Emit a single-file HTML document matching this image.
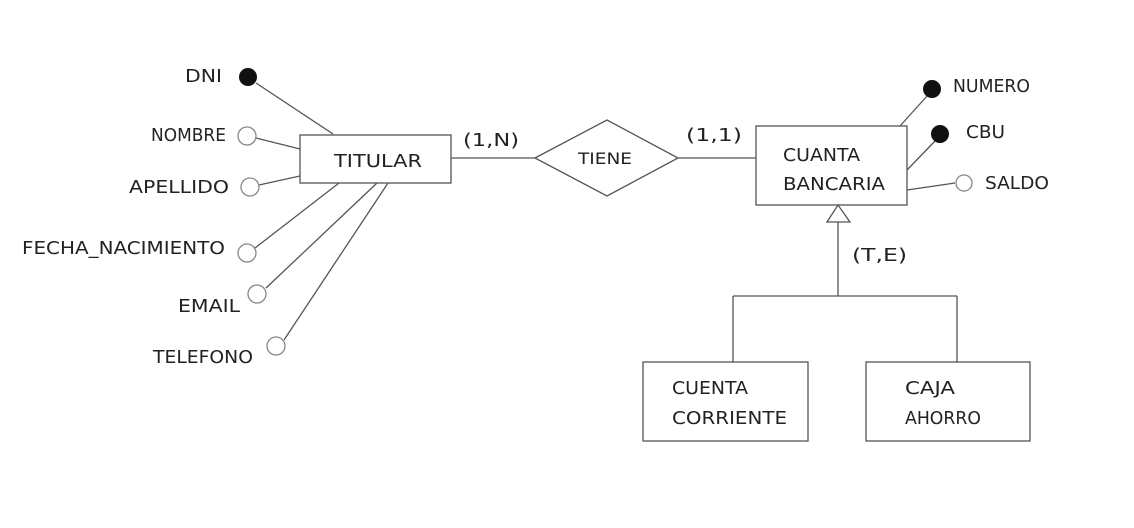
<!DOCTYPE html>
<html><head><meta charset="utf-8"><style>
html,body{margin:0;padding:0;background:#fff;}
svg{display:block}
text{font-family:"DejaVu Sans","Liberation Sans",sans-serif;font-size:18px;fill:#222;}
</style></head><body>
<svg width="1134" height="528" viewBox="0 0 1134 528" xmlns="http://www.w3.org/2000/svg">
<g stroke="#555" stroke-width="1.3" fill="none">
<line x1="256" y1="83" x2="333" y2="134"/>
<line x1="256" y1="138" x2="300" y2="149"/>
<line x1="259" y1="185" x2="300" y2="176"/>
<line x1="255" y1="248" x2="339" y2="183"/>
<line x1="266" y1="288" x2="377" y2="183"/>
<line x1="284" y1="340" x2="388" y2="183"/>
<rect x="300" y="135" width="151" height="48" fill="#fff"/>
<line x1="451" y1="158" x2="535" y2="158"/>
<polygon points="535,158 607,120 678,158 607,196" fill="#fff"/>
<line x1="678" y1="158" x2="756" y2="158"/>
<rect x="756" y="126" width="151" height="79" fill="#fff"/>
<line x1="900" y1="126" x2="928" y2="95"/>
<line x1="907" y1="170" x2="936" y2="140"/>
<line x1="907" y1="190" x2="955" y2="183"/>
<polygon points="838,205 827,222 850,222" fill="#fff"/>
<line x1="838" y1="222" x2="838" y2="296"/>
<line x1="733" y1="296" x2="957" y2="296"/>
<line x1="733" y1="296" x2="733" y2="362"/>
<line x1="957" y1="296" x2="957" y2="362"/>
<rect x="643" y="362" width="165" height="79" fill="#fff"/>
<rect x="866" y="362" width="164" height="79" fill="#fff"/>
<circle cx="247" cy="136" r="9" fill="#fff" stroke="#888"/>
<circle cx="250" cy="187" r="9" fill="#fff" stroke="#888"/>
<circle cx="247" cy="253" r="9" fill="#fff" stroke="#888"/>
<circle cx="257" cy="294" r="9" fill="#fff" stroke="#888"/>
<circle cx="276" cy="346" r="9" fill="#fff" stroke="#888"/>
<circle cx="964" cy="183" r="8" fill="#fff" stroke="#888"/>
</g>
<circle cx="248" cy="77" r="9" fill="#111"/>
<circle cx="932" cy="89" r="9" fill="#111"/>
<circle cx="940" cy="134" r="9" fill="#111"/>
<text x="185" y="82" textLength="37" lengthAdjust="spacingAndGlyphs">DNI</text>
<text x="151" y="141" textLength="75" lengthAdjust="spacingAndGlyphs">NOMBRE</text>
<text x="129" y="193" textLength="100" lengthAdjust="spacingAndGlyphs">APELLIDO</text>
<text x="22" y="254" textLength="203" lengthAdjust="spacingAndGlyphs">FECHA_NACIMIENTO</text>
<text x="178" y="312" textLength="62" lengthAdjust="spacingAndGlyphs">EMAIL</text>
<text x="153" y="363" textLength="100" lengthAdjust="spacingAndGlyphs">TELEFONO</text>
<text x="334" y="167" textLength="88" lengthAdjust="spacingAndGlyphs">TITULAR</text>
<text x="578" y="164" style="font-size:16px" textLength="54" lengthAdjust="spacingAndGlyphs">TIENE</text>
<text x="463" y="146" textLength="56" lengthAdjust="spacingAndGlyphs">(1,N)</text>
<text x="686" y="141" textLength="56" lengthAdjust="spacingAndGlyphs">(1,1)</text>
<text x="783" y="161" textLength="77" lengthAdjust="spacingAndGlyphs">CUANTA</text>
<text x="783" y="190" textLength="102" lengthAdjust="spacingAndGlyphs">BANCARIA</text>
<text x="953" y="92" textLength="77" lengthAdjust="spacingAndGlyphs">NUMERO</text>
<text x="966" y="138" textLength="39" lengthAdjust="spacingAndGlyphs">CBU</text>
<text x="985" y="189" textLength="64" lengthAdjust="spacingAndGlyphs">SALDO</text>
<text x="852" y="261" textLength="55" lengthAdjust="spacingAndGlyphs">(T,E)</text>
<text x="672" y="394" textLength="76" lengthAdjust="spacingAndGlyphs">CUENTA</text>
<text x="672" y="424" textLength="115" lengthAdjust="spacingAndGlyphs">CORRIENTE</text>
<text x="905" y="394" textLength="50" lengthAdjust="spacingAndGlyphs">CAJA</text>
<text x="905" y="424" textLength="76" lengthAdjust="spacingAndGlyphs">AHORRO</text>
</svg>
</body></html>
